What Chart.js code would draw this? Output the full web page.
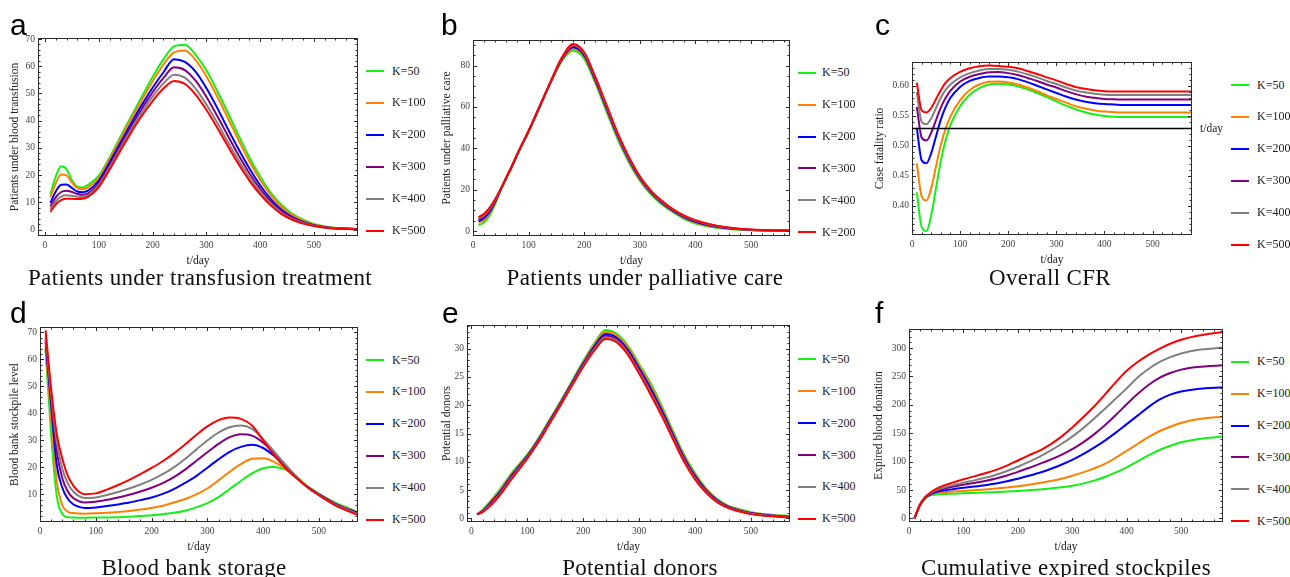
<!DOCTYPE html>
<html>
<head>
<meta charset="utf-8">
<title>Blood supply model, K scenarios</title>
<script src="https://cdn.jsdelivr.net/npm/chart.js@4.4.1/dist/chart.umd.min.js"></script>
<style>
  html, body { margin: 0; padding: 0; background: #fff; }
  #fig { position: relative; width: 1290px; height: 577px; overflow: hidden; font-family: "Liberation Serif", "Times New Roman", serif; color: #111; }
  #fig canvas { position: absolute; }
  .letter { position: absolute; font-family: "Liberation Sans", Arial, sans-serif; font-size: 30px; line-height: 1; color: #000; }
  .caption { position: absolute; font-size: 23px; line-height: 1; letter-spacing: 0.35px; white-space: nowrap; transform: translateX(-50%); color: #111; }
  .legrow { position: absolute; height: 16px; display: flex; align-items: center; font-size: 12px; white-space: nowrap; color: #222; }
  .legrow span.swatch { display: inline-block; width: 18px; height: 2px; }
</style>
</head>
<body>
<div id="fig"></div>
<script>
// time points (days) shared by every curve
const tDays = [10, 20, 30, 40, 50, 60, 70, 80, 100, 120, 140, 160, 180, 200, 220, 240, 260, 280, 300, 320, 340, 360, 380, 400, 420, 440, 460, 480, 500, 530, 580];

const kLabels = ['K=50', 'K=100', 'K=200', 'K=300', 'K=400', 'K=500'];
const kLabelsPalliative = ['K=50', 'K=100', 'K=200', 'K=300', 'K=400', 'K=200'];
const kColors = ['#14f014', '#ff8000', '#0000ff', '#800080', '#808080', '#ff0000'];

const xTicks = [0, 100, 200, 300, 400, 500];
const yTicksTransfusion = [0, 10, 20, 30, 40, 50, 60, 70];
const yTicksPalliative = [0, 20, 40, 60, 80];
const yTicksCfr = [0.40, 0.45, 0.50, 0.55, 0.60];
const yTicksStockpile = [10, 20, 30, 40, 50, 60, 70];
const yTicksDonors = [0, 5, 10, 15, 20, 25, 30];
const yTicksExpired = [0, 50, 100, 150, 200, 250, 300];

// reference level drawn across the CFR panel
const cfrAxis = 0.53;

// rows: K=50, K=100, K=200, K=300, K=400, K=500
const transfusion = [
  [13.0, 19.5, 23.3, 22.2, 18.2, 15.8, 15.5, 16.4, 19.8, 26.5, 34.0, 41.5, 48.8, 56.0, 62.5, 67.3, 67.9, 64.2, 58.5, 51.0, 43.0, 34.5, 26.5, 19.5, 13.5, 9.0, 5.8, 3.6, 2.1, 0.9, 0.2],
  [11.8, 17.0, 20.2, 19.9, 17.3, 15.2, 14.8, 15.5, 19.0, 25.8, 33.2, 40.6, 47.6, 54.4, 60.6, 65.1, 65.8, 62.3, 56.3, 49.0, 41.0, 32.8, 25.0, 18.3, 12.6, 8.3, 5.3, 3.3, 1.9, 0.8, 0.2],
  [9.8, 14.0, 16.5, 16.6, 15.3, 14.0, 13.7, 14.3, 18.0, 24.6, 31.8, 39.0, 45.8, 52.1, 57.7, 62.6, 61.6, 58.0, 52.0, 44.8, 37.0, 29.5, 22.5, 16.3, 11.2, 7.3, 4.6, 2.8, 1.6, 0.7, 0.15],
  [8.5, 11.8, 13.8, 14.3, 13.8, 13.1, 12.8, 13.3, 17.1, 23.6, 30.7, 37.8, 44.4, 50.4, 55.6, 59.6, 58.6, 54.7, 48.8, 41.8, 34.5, 27.3, 20.7, 15.0, 10.3, 6.7, 4.2, 2.6, 1.5, 0.6, 0.15],
  [7.5, 10.4, 12.1, 12.6, 12.4, 12.1, 12.0, 12.6, 16.3, 22.8, 29.8, 36.7, 43.1, 48.8, 53.6, 56.9, 55.8, 51.8, 46.0, 39.3, 32.2, 25.4, 19.2, 13.8, 9.5, 6.2, 3.9, 2.4, 1.4, 0.6, 0.1],
  [6.5, 9.3, 10.8, 11.3, 11.3, 11.2, 11.3, 12.0, 15.6, 22.0, 28.9, 35.6, 41.8, 47.2, 51.8, 54.6, 53.5, 49.6, 44.0, 37.5, 30.6, 24.0, 18.0, 12.9, 8.8, 5.7, 3.6, 2.2, 1.3, 0.5, 0.1]
];

const palliative = [
  [2.8, 4.2, 7.5, 13.0, 19.8, 25.5, 31.0, 37.0, 48.0, 60.0, 72.0, 82.3, 87.2, 83.3, 71.5, 57.8, 44.5, 33.3, 24.3, 17.6, 12.7, 9.0, 5.8, 3.6, 2.3, 1.5, 0.95, 0.6, 0.4, 0.25, 0.08],
  [4.0, 5.4, 8.6, 13.8, 20.0, 25.7, 31.2, 37.2, 48.2, 60.2, 72.2, 82.8, 88.2, 84.3, 72.4, 58.8, 45.4, 34.1, 25.0, 18.2, 13.2, 9.5, 6.3, 4.1, 2.7, 1.8, 1.2, 0.75, 0.5, 0.3, 0.1],
  [4.75, 6.25, 9.4, 14.25, 20.15, 25.75, 31.25, 37.25, 48.25, 60.25, 72.25, 83.15, 88.85, 84.9, 73.0, 59.4, 46.0, 34.65, 25.4, 18.55, 13.6, 9.75, 6.65, 4.45, 3.0, 2.0, 1.3, 0.85, 0.55, 0.33, 0.12],
  [5.5, 7.1, 10.2, 14.75, 20.3, 25.85, 31.35, 37.35, 48.35, 60.35, 72.35, 83.5, 89.5, 85.5, 73.6, 60.0, 46.6, 35.2, 25.85, 18.9, 13.95, 10.05, 7.0, 4.8, 3.3, 2.2, 1.5, 0.95, 0.6, 0.36, 0.13],
  [6.1, 7.7, 10.7, 15.1, 20.4, 25.9, 31.4, 37.4, 48.4, 60.4, 72.4, 83.75, 90.0, 86.0, 74.05, 60.5, 47.05, 35.6, 26.2, 19.2, 14.2, 10.3, 7.25, 5.05, 3.5, 2.35, 1.6, 1.0, 0.65, 0.38, 0.14],
  [6.7, 8.3, 11.3, 15.5, 20.5, 26.0, 31.5, 37.5, 48.5, 60.5, 72.5, 84.0, 90.5, 86.5, 74.5, 61.0, 47.5, 36.0, 26.5, 19.5, 14.5, 10.5, 7.5, 5.3, 3.7, 2.5, 1.7, 1.1, 0.7, 0.4, 0.15]
];

const cfr = [
  [0.423, 0.365, 0.358, 0.385, 0.43, 0.475, 0.51, 0.535, 0.566, 0.585, 0.596, 0.602, 0.6035, 0.602, 0.599, 0.594, 0.588, 0.581, 0.574, 0.567, 0.561, 0.556, 0.552, 0.5498, 0.5485, 0.548, 0.5478, 0.5478, 0.5478, 0.5478, 0.5478],
  [0.471, 0.416, 0.409, 0.43, 0.466, 0.502, 0.529, 0.549, 0.576, 0.593, 0.602, 0.6065, 0.607, 0.6055, 0.602, 0.597, 0.591, 0.584, 0.578, 0.572, 0.566, 0.562, 0.559, 0.557, 0.556, 0.5556, 0.5556, 0.5556, 0.5556, 0.5556, 0.5556],
  [0.530, 0.476, 0.471, 0.488, 0.516, 0.544, 0.565, 0.58, 0.598, 0.608, 0.613, 0.6155, 0.6155, 0.614, 0.611, 0.606, 0.6, 0.594, 0.588, 0.582, 0.577, 0.5735, 0.571, 0.5695, 0.5688, 0.568, 0.568, 0.568, 0.568, 0.568, 0.568],
  [0.565, 0.514, 0.509, 0.522, 0.543, 0.564, 0.58, 0.592, 0.607, 0.615, 0.6195, 0.6225, 0.6228, 0.621, 0.618, 0.613, 0.608, 0.602, 0.597, 0.591, 0.586, 0.582, 0.58, 0.578, 0.5775, 0.577, 0.577, 0.577, 0.577, 0.577, 0.577],
  [0.589, 0.54, 0.536, 0.546, 0.563, 0.58, 0.593, 0.602, 0.614, 0.621, 0.6255, 0.628, 0.628, 0.6265, 0.6235, 0.619, 0.614, 0.608, 0.603, 0.597, 0.592, 0.589, 0.5865, 0.585, 0.5845, 0.5844, 0.5844, 0.5844, 0.5844, 0.5844, 0.5844],
  [0.605, 0.559, 0.5556, 0.563, 0.578, 0.593, 0.605, 0.613, 0.623, 0.629, 0.6325, 0.6335, 0.633, 0.6315, 0.629, 0.6245, 0.6195, 0.614, 0.609, 0.603, 0.598, 0.595, 0.5925, 0.591, 0.5905, 0.5905, 0.5905, 0.5905, 0.5905, 0.5905, 0.5905]
];

const stockpile = [
  [63.5, 32, 9.5, 2.8, 1.6, 1.45, 1.4, 1.4, 1.45, 1.5, 1.6, 1.75, 2.0, 2.3, 2.7, 3.2, 4.0, 5.2, 6.8, 9.0, 12.0, 15.0, 17.8, 19.7, 20.2, 19.2, 16.5, 13.0, 10.3, 6.9, 2.8],
  [64.5, 38, 15, 6, 3.6, 3.1, 2.95, 2.9, 3.0, 3.2, 3.5, 3.9, 4.4, 5.0, 5.8, 7.0, 8.3, 10.0, 12.2, 15.2, 18.4, 21.2, 23.2, 23.4, 22.0, 19.5, 16.0, 12.7, 10.1, 6.6, 2.5],
  [66.5, 43, 21, 12.5, 8.3, 6.3, 5.4, 5.0, 5.2, 5.7, 6.3, 7.0, 7.9, 8.9, 10.2, 12.0, 14.3, 16.8, 19.9, 23.0, 25.8, 27.6, 28.4, 27.2, 24.2, 20.3, 16.3, 12.7, 10.0, 6.4, 2.3],
  [67.5, 45, 26, 16, 11, 8.6, 7.5, 7.0, 7.3, 8.0, 8.9, 9.9, 11.1, 12.5, 14.2, 16.4, 19.2, 22.4, 25.6, 28.7, 31.2, 32.3, 31.8, 29.2, 25.2, 20.7, 16.4, 12.7, 9.9, 6.3, 2.1],
  [69, 47, 29.5, 19.5, 14, 11, 9.4, 8.7, 8.9, 9.8, 10.9, 12.2, 13.7, 15.4, 17.5, 20.0, 23.1, 26.6, 30.0, 32.9, 34.9, 35.5, 34.3, 30.5, 25.8, 21.0, 16.6, 12.7, 9.8, 6.1, 1.9],
  [70.8, 49, 32.5, 23.2, 16.8, 13.2, 11.0, 10.1, 10.4, 11.8, 13.5, 15.4, 17.5, 19.8, 22.3, 25.2, 28.5, 32.0, 35.2, 37.5, 38.5, 38.0, 35.5, 30.0, 24.5, 19.8, 16.0, 12.6, 9.7, 5.9, 1.6]
];

const donors = [
  [0.7, 1.5, 2.6, 3.8, 5.0, 6.4, 7.8, 9.0, 11.3, 14.2, 17.5, 20.8, 24.3, 27.8, 31.0, 33.3, 32.6, 30.5, 27.3, 24.0, 20.0, 15.6, 11.4, 8.0, 5.3, 3.4, 2.2, 1.6, 1.1, 0.7, 0.35],
  [0.7, 1.42, 2.46, 3.62, 4.8, 6.18, 7.58, 8.8, 11.16, 14.06, 17.36, 20.66, 24.14, 27.6, 30.74, 32.98, 32.3, 30.18, 26.96, 23.6, 19.64, 15.3, 11.14, 7.78, 5.14, 3.28, 2.12, 1.52, 1.03, 0.64, 0.3],
  [0.7, 1.32, 2.29, 3.4, 4.55, 5.9, 7.3, 8.55, 10.99, 13.9, 17.19, 20.49, 23.94, 27.35, 30.42, 32.58, 31.93, 29.78, 26.54, 23.1, 19.19, 14.93, 10.82, 7.51, 4.94, 3.13, 2.02, 1.42, 0.94, 0.57, 0.24],
  [0.7, 1.24, 2.15, 3.22, 4.35, 5.69, 7.09, 8.35, 10.85, 13.75, 17.05, 20.35, 23.78, 27.15, 30.16, 32.26, 31.63, 29.46, 26.2, 22.7, 18.83, 14.63, 10.56, 7.29, 4.78, 3.01, 1.94, 1.34, 0.87, 0.51, 0.19],
  [0.7, 1.17, 2.03, 3.06, 4.18, 5.5, 6.9, 8.18, 10.73, 13.63, 16.93, 20.23, 23.64, 26.98, 29.93, 31.99, 31.37, 29.19, 25.91, 22.36, 18.52, 14.37, 10.33, 7.1, 4.64, 2.91, 1.87, 1.27, 0.81, 0.45, 0.15],
  [0.7, 1.1, 1.9, 2.9, 4.0, 5.3, 6.7, 8.0, 10.6, 13.5, 16.8, 20.1, 23.5, 26.8, 29.7, 31.7, 31.1, 28.9, 25.6, 22.0, 18.2, 14.1, 10.1, 6.9, 4.5, 2.8, 1.8, 1.2, 0.75, 0.4, 0.1]
];

const expired = [
  [0, 22, 35, 40.5, 42, 42.8, 43.2, 43.6, 44.2, 44.9, 45.6, 46.4, 47.2, 48.2, 49.4, 50.8, 52.6, 54.8, 57.5, 61.3, 66.5, 73, 81, 90, 100.5, 111, 120.5, 128, 134, 139.5, 144.5],
  [0, 23, 36.5, 42.5, 44.8, 45.9, 46.6, 47.2, 48.4, 49.6, 51, 52.6, 54.5, 56.7, 59.2, 62.2, 65.8, 70, 75, 81, 88, 96, 107, 119, 131, 143, 153.5, 161.5, 168, 174.5, 179.5],
  [0, 23, 36.3, 42.8, 46.5, 48.6, 50.1, 51.3, 54, 56.2, 58.6, 61.4, 65.3, 70, 75, 80.5, 87, 94.5, 103, 113, 124.5, 137, 151, 166, 181, 196, 209, 218, 223.5, 228, 231],
  [0, 23.5, 37, 44, 48.5, 51.5, 53.8, 55.7, 59.3, 62.5, 66, 70.2, 75.5, 82, 88.7, 96, 103.5, 112, 122, 134, 148, 164, 182, 201, 219, 235, 247.5, 256, 262, 266.5, 270],
  [0, 23.8, 37.5, 45, 50, 53.5, 56.3, 58.5, 63, 67, 71.5, 77, 83.5, 91, 99.5, 109, 119.5, 131, 144, 159, 175.5, 193, 211, 229, 248, 263, 275, 284, 290.5, 296.5, 301],
  [0, 24, 38, 46, 52, 56.5, 60, 63, 69, 74, 79.5, 85.5, 93, 102, 111, 119.5, 130.5, 144, 160, 178, 197, 218, 240, 260, 275.5, 288, 298.5, 307.5, 314.5, 321.5, 328.5]
];

// panel layout: frame = [left, top, right, bottom] in page pixels
const panels = [
  { letter: 'a', letterAt: [10, 35], series: transfusion, labels: kLabels,
    frame: [38, 38, 358, 236], xRange: [-13, 582], yRange: [-2.36, 70.37],
    yTicks: yTicksTransfusion, xMinor: 20, yMinor: 2, yMajor: 10,
    yTitle: 'Patients under blood transfusion', yTitleGap: 23,
    caption: 'Patients under transfusion treatment', captionAt: [200, 285],
    legend: { x: 366, y0: 71, gap: 8 } },
  { letter: 'b', letterAt: [441, 35], series: palliative, labels: kLabelsPalliative,
    frame: [473, 40, 790, 236], xRange: [0, 570], yRange: [-2.4, 92.4],
    yTicks: yTicksPalliative, xMinor: 20, yMinor: 5, yMajor: 20,
    yTitle: 'Patients under palliative care', yTitleGap: 26.5,
    caption: 'Patients under palliative care', captionAt: [645, 285],
    legend: { x: 798, y0: 72.7, gap: 6 } },
  { letter: 'c', letterAt: [875, 35], series: cfr, labels: kLabels,
    frame: [912, 62, 1192, 235], xRange: [0, 582], yRange: [0.3517, 0.6395],
    yTicks: yTicksCfr, xMinor: 20, yMinor: 0.01, yMajor: 0.05, decimals: 2,
    yTitle: 'Case fatality ratio', yTitleGap: 32.5, axisAt: cfrAxis, padR: 36,
    caption: 'Overall CFR', captionAt: [1050, 285],
    legend: { x: 1231, y0: 85, gap: 8 } },
  { letter: 'd', letterAt: [10, 323], series: stockpile, labels: kLabels,
    frame: [40, 327, 358, 522], xRange: [0, 570], yRange: [-0.2, 72],
    yTicks: yTicksStockpile, xMinor: 20, yMinor: 2, yMajor: 10,
    yTitle: 'Blood bank stockpile level', yTitleGap: 25,
    caption: 'Blood bank storage', captionAt: [194, 575],
    legend: { x: 366, y0: 360, gap: 8 } },
  { letter: 'e', letterAt: [442, 323], series: donors, labels: kLabels,
    frame: [467, 325, 790, 522], xRange: [-8, 570], yRange: [-0.64, 34.18],
    yTicks: yTicksDonors, xMinor: 20, yMinor: 1, yMajor: 5,
    yTitle: 'Potential donors', yTitleGap: 20.5,
    caption: 'Potential donors', captionAt: [640, 575],
    legend: { x: 798, y0: 359.3, gap: 6 } },
  { letter: 'f', letterAt: [875, 323], series: expired, labels: kLabels,
    frame: [909, 329, 1223, 522], xRange: [0, 577], yRange: [-6.3, 333.5],
    yTicks: yTicksExpired, xMinor: 20, yMinor: 10, yMajor: 50,
    yTitle: 'Expired blood donation', yTitleGap: 30.3,
    caption: 'Cumulative expired stockpiles', captionAt: [1066, 575],
    legend: { x: 1231, y0: 361.7, gap: 8 } }
];

const serif = '"Liberation Serif", "Times New Roman", serif';
const fig = document.getElementById('fig');

function isMultiple(v, step) {
  const r = v / step;
  return Math.abs(r - Math.round(r)) < 1e-6;
}

// Mathematica-style frame: box plus inward ticks on all four sides
const framePlugin = {
  id: 'frame',
  afterDatasetsDraw(chart, args, opts) {
    const { ctx, chartArea: a } = chart;
    const xs = chart.scales.x, ys = chart.scales.y;
    ctx.save();
    ctx.strokeStyle = '#2b2b2b';
    ctx.lineWidth = 1;
    ctx.beginPath();
    for (let i = Math.ceil(xs.min / opts.xMinor); i * opts.xMinor <= xs.max + 1e-9; i++) {
      const v = i * opts.xMinor;
      const px = Math.round(xs.getPixelForValue(v)) + 0.5;
      const len = isMultiple(v, 100) ? 4 : 2.5;
      ctx.moveTo(px, a.bottom); ctx.lineTo(px, a.bottom - len);
      ctx.moveTo(px, a.top); ctx.lineTo(px, a.top + len);
    }
    for (let i = Math.ceil(ys.min / opts.yMinor - 1e-9); i * opts.yMinor <= ys.max + 1e-9; i++) {
      const v = i * opts.yMinor;
      const py = Math.round(ys.getPixelForValue(v)) + 0.5;
      const len = isMultiple(v, opts.yMajor) ? 4 : 2.5;
      ctx.moveTo(a.left, py); ctx.lineTo(a.left + len, py);
      ctx.moveTo(a.right, py); ctx.lineTo(a.right - len, py);
    }
    ctx.stroke();
    ctx.strokeRect(Math.round(a.left) + 0.5, Math.round(a.top) + 0.5, Math.round(a.width) - 1, Math.round(a.height) - 1);

    if (opts.axisAt !== undefined) {
      const py = Math.round(ys.getPixelForValue(opts.axisAt)) + 0.5;
      ctx.strokeStyle = '#000';
      ctx.lineWidth = 1.3;
      ctx.beginPath();
      ctx.moveTo(a.left, py); ctx.lineTo(a.right, py);
      ctx.stroke();
      ctx.fillStyle = '#222';
      ctx.font = '11.5px ' + serif;
      ctx.textAlign = 'left';
      ctx.textBaseline = 'middle';
      ctx.fillText('t/day', a.right + 8, py);
    }
    ctx.restore();
  }
};

function addText(cls, text, left, top) {
  const el = document.createElement('div');
  el.className = cls;
  el.textContent = text;
  el.style.left = left + 'px';
  el.style.top = top + 'px';
  fig.appendChild(el);
  return el;
}

function makePanel(p) {
  const yW = 44, xH = 36, padT = 10, padR = p.padR || 8;
  const [fl, ft, fr, fb] = p.frame;
  const w = yW + (fr - fl) + padR;
  const h = padT + (fb - ft) + xH;
  const cv = document.createElement('canvas');
  cv.width = w; cv.height = h;
  cv.style.left = (fl - yW) + 'px';
  cv.style.top = (ft - padT) + 'px';
  cv.style.width = w + 'px';
  cv.style.height = h + 'px';
  fig.appendChild(cv);

  const datasets = p.series.map((vals, i) => ({
    label: p.labels[i],
    data: tDays.map((t, j) => ({ x: t, y: vals[j] })),
    borderColor: kColors[i],
    borderWidth: 2,
    pointRadius: 0,
    fill: false,
    cubicInterpolationMode: 'monotone',
    order: p.series.length - 1 - i
  }));

  const tickFont = { family: serif, size: 9.5 };
  const titleFont = { family: serif, size: 11.5 };

  new Chart(cv, {
    type: 'line',
    data: { datasets },
    options: {
      responsive: false,
      devicePixelRatio: 1,
      animation: false,
      layout: { padding: { top: padT, right: padR, left: 0, bottom: 0 } },
      plugins: {
        legend: { display: false },
        tooltip: { enabled: false },
        frame: { xMinor: p.xMinor, yMinor: p.yMinor, yMajor: p.yMajor, axisAt: p.axisAt }
      },
      scales: {
        x: {
          type: 'linear',
          min: p.xRange[0], max: p.xRange[1],
          afterBuildTicks: s => { s.ticks = xTicks.map(v => ({ value: v })); },
          afterFit: s => { s.height = xH; },
          grid: { display: false, drawTicks: false },
          border: { display: false },
          ticks: { font: tickFont, color: '#444', padding: 4, autoSkip: false, maxRotation: 0, callback: v => String(v) },
          title: { display: true, text: 't/day', font: { family: serif, size: 11.5 }, color: '#222', padding: { top: 0, bottom: 4 } }
        },
        y: {
          type: 'linear',
          min: p.yRange[0], max: p.yRange[1],
          afterBuildTicks: s => { s.ticks = p.yTicks.map(v => ({ value: v })); },
          afterFit: s => { s.width = yW; },
          grid: { display: false, drawTicks: false },
          border: { display: false },
          ticks: { font: tickFont, color: '#444', padding: 3, autoSkip: false,
                   callback: v => p.decimals ? v.toFixed(p.decimals) : String(v) },
          title: { display: true, text: p.yTitle, font: titleFont, color: '#222',
                   padding: { top: yW - p.yTitleGap - 6.9, bottom: 0 } }
        }
      }
    },
    plugins: [framePlugin]
  });

  // panel letter, caption and legend as page text
  addText('letter', p.letter, p.letterAt[0], p.letterAt[1] - 25.4);
  addText('caption', p.caption, p.captionAt[0], p.captionAt[1] - 19.3);
  p.labels.forEach((lab, i) => {
    const row = document.createElement('div');
    row.className = 'legrow';
    row.style.left = p.legend.x + 'px';
    row.style.top = (p.legend.y0 + i * 31.9 - 8) + 'px';
    const sw = document.createElement('span');
    sw.className = 'swatch';
    sw.style.background = kColors[i];
    sw.style.marginRight = p.legend.gap + 'px';
    row.appendChild(sw);
    row.appendChild(document.createTextNode(lab));
    fig.appendChild(row);
  });
}

panels.forEach(makePanel);
</script>
</body>
</html>
